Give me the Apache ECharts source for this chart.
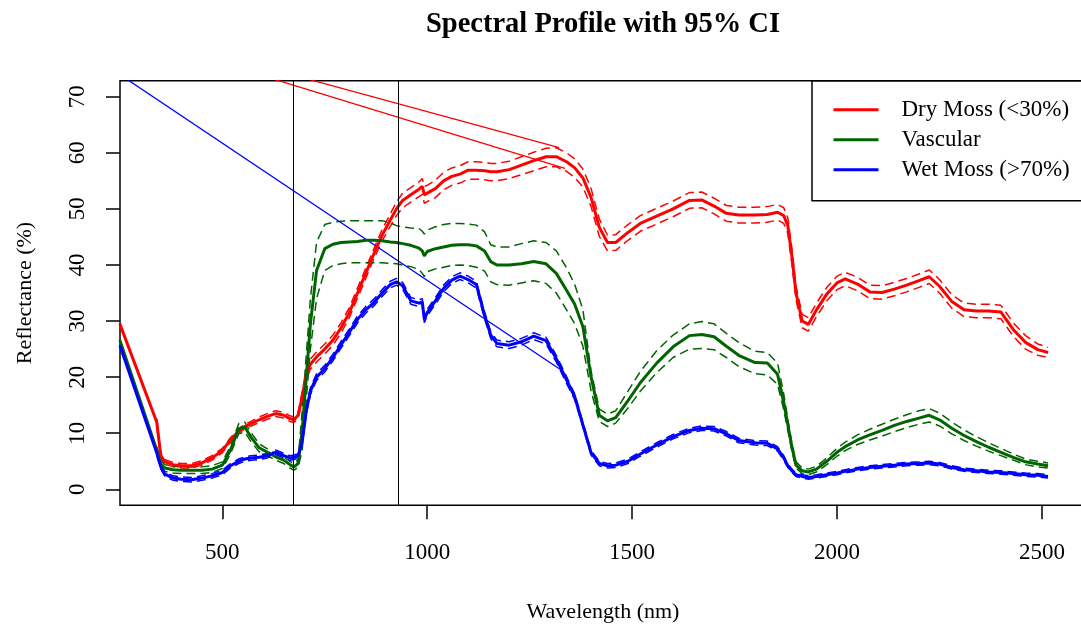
<!DOCTYPE html>
<html>
<head>
<meta charset="utf-8">
<script src="https://cdn.jsdelivr.net/npm/echarts@6/dist/echarts.min.js"></script>
<style>
html, body { margin: 0; padding: 0; background: #ffffff; }
#chart { width: 1081px; height: 628px; }
</style>
</head>
<body>
<div id="chart"></div>
<script>
// ---------------- DATA ----------------
const wavelength = [340, 350, 360, 380, 400, 425, 450, 475, 500, 520,
  540, 555, 570, 590, 610, 630, 650, 665, 675, 685,
  695, 705, 715, 730, 750, 770, 790, 810, 830, 850,
  870, 890, 910, 925, 940, 960, 980, 988, 993, 1000,
  1020, 1040, 1060, 1080, 1100, 1120, 1140, 1155, 1170, 1200,
  1230, 1260, 1290, 1315, 1340, 1360, 1380, 1400, 1420, 1440,
  1460, 1490, 1520, 1560, 1600, 1640, 1670, 1700, 1730, 1760,
  1800, 1830, 1855, 1870, 1880, 1890, 1900, 1915, 1930, 1950,
  1975, 2000, 2020, 2050, 2080, 2110, 2140, 2170, 2200, 2225,
  2250, 2280, 2310, 2340, 2370, 2400, 2430, 2460, 2490, 2515];

const dryMean = [12.0, 6.0, 4.9, 4.4, 4.2, 4.2, 4.7, 5.6, 6.9, 8.8,
  10.4, 11.2, 11.7, 12.4, 13.0, 13.5, 13.2, 12.6, 12.4, 13.2,
  16.5, 20.5, 22.3, 23.6, 25.0, 26.6, 28.8, 31.5, 35.0, 38.5,
  42.0, 45.3, 48.0, 50.0, 51.5, 52.5, 53.5, 54.0, 52.5, 52.8,
  53.6, 55.0, 55.8, 56.2, 56.9, 56.9, 56.8, 56.6, 56.6, 57.0,
  57.8, 58.6, 59.3, 59.3, 58.4, 57.3, 55.5, 52.0, 46.7, 44.0,
  44.0, 45.8, 47.4, 48.7, 50.0, 51.5, 51.6, 50.5, 49.2, 48.9,
  48.9, 49.0, 49.4, 48.8, 47.0, 41.5, 35.0, 30.0, 29.4, 32.0,
  34.8, 36.8, 37.5, 36.6, 35.2, 35.1, 35.7, 36.4, 37.2, 37.9,
  36.2, 33.5, 32.0, 31.8, 31.8, 31.6, 28.5, 26.2, 24.9, 24.4];
const dryUpper = [12.6, 6.5, 5.3, 4.8, 4.6, 4.6, 5.1, 6.0, 7.3, 9.2,
  10.8, 11.6, 12.1, 12.9, 13.5, 14.0, 13.7, 13.1, 12.9, 13.7,
  17.4, 21.4, 23.2, 24.5, 25.9, 27.5, 29.7, 32.4, 35.9, 39.4,
  42.9, 46.3, 49.1, 51.2, 52.8, 53.8, 54.8, 55.4, 54.0, 54.2,
  55.1, 56.5, 57.3, 57.7, 58.4, 58.4, 58.3, 58.1, 58.1, 58.5,
  59.3, 60.1, 60.8, 60.9, 60.0, 58.9, 57.1, 53.6, 48.2, 45.3,
  45.4, 47.2, 48.8, 50.1, 51.4, 52.9, 53.0, 51.9, 50.6, 50.3,
  50.3, 50.4, 50.8, 50.2, 48.4, 42.9, 36.2, 31.2, 30.6, 33.2,
  36.0, 38.0, 38.7, 37.8, 36.4, 36.3, 36.9, 37.6, 38.4, 39.1,
  37.4, 34.7, 33.2, 33.0, 33.0, 32.8, 29.7, 27.4, 25.9, 25.3];
const dryLower = [11.4, 5.5, 4.5, 4.0, 3.8, 3.8, 4.3, 5.2, 6.5, 8.4,
  10.0, 10.8, 11.3, 11.9, 12.5, 13.0, 12.7, 12.1, 11.9, 12.7,
  15.6, 19.6, 21.4, 22.7, 24.1, 25.7, 27.9, 30.6, 34.1, 37.6,
  41.1, 44.3, 46.9, 48.8, 50.2, 51.2, 52.2, 52.6, 51.0, 51.3,
  52.0, 53.4, 54.2, 54.6, 55.3, 55.3, 55.2, 55.0, 55.0, 55.4,
  56.1, 56.8, 57.5, 57.5, 56.7, 55.6, 53.9, 50.4, 45.1, 42.5,
  42.6, 44.4, 46.0, 47.3, 48.6, 50.1, 50.2, 49.1, 47.8, 47.5,
  47.5, 47.6, 48.0, 47.4, 45.6, 40.1, 33.8, 28.8, 28.2, 30.8,
  33.6, 35.6, 36.3, 35.4, 34.0, 33.9, 34.5, 35.2, 36.0, 36.7,
  35.0, 32.3, 30.8, 30.6, 30.6, 30.4, 27.3, 25.0, 23.9, 23.5];

const vascMean = [7.0, 4.5, 3.8, 3.5, 3.4, 3.4, 3.4, 3.6, 4.3, 7.0,
  10.8, 11.1, 9.3, 7.4, 6.6, 5.8, 5.2, 4.4, 4.0, 4.6,
  10.5, 20.0, 29.5, 39.0, 42.9, 43.7, 44.0, 44.1, 44.2, 44.4,
  44.4, 44.3, 44.1, 44.0, 43.8, 43.5, 43.0, 42.5, 41.6, 42.4,
  42.9, 43.2, 43.5, 43.6, 43.6, 43.4, 42.5, 40.6, 40.0, 40.0,
  40.2, 40.6, 40.2, 38.5, 35.5, 33.0, 29.0, 20.0, 13.2, 12.2,
  12.8, 15.8, 19.0, 22.5, 25.4, 27.4, 27.6, 27.2, 25.5, 23.9,
  22.6, 22.5, 20.5, 15.5, 11.5, 7.5, 4.3, 3.3, 3.1, 3.6,
  5.0, 6.6, 7.6, 8.8, 9.7, 10.5, 11.4, 12.1, 12.7, 13.2,
  12.4, 10.9, 9.6, 8.5, 7.5, 6.6, 5.7, 4.9, 4.5, 4.2];
const vascUpper = [7.6, 5.1, 4.4, 4.1, 4.0, 4.0, 4.0, 4.2, 4.9, 7.7,
  11.7, 12.0, 10.1, 8.1, 7.2, 6.4, 5.8, 5.0, 4.6, 5.3,
  14.0, 24.0, 34.0, 44.0, 47.2, 47.6, 47.8, 47.9, 47.9, 47.9,
  47.9, 47.9, 47.5, 47.0, 46.8, 46.6, 46.5, 46.0, 45.5, 46.2,
  46.8, 47.2, 47.4, 47.4, 47.3, 47.1, 45.9, 43.6, 43.2, 43.2,
  43.8, 44.3, 44.0, 42.5, 39.5, 36.5, 32.0, 21.0, 14.3, 13.4,
  14.0, 17.5, 21.0, 24.7, 27.5, 29.5, 29.9, 29.5, 27.8, 26.2,
  24.6, 24.4, 22.5, 17.0, 12.5, 8.2, 4.9, 3.8, 3.6, 4.1,
  5.6, 7.3, 8.4, 9.7, 10.7, 11.6, 12.5, 13.3, 14.0, 14.4,
  13.6, 12.0, 10.6, 9.4, 8.3, 7.3, 6.3, 5.4, 5.0, 4.7];
const vascLower = [6.4, 3.9, 3.2, 2.9, 2.8, 2.8, 2.8, 3.0, 3.7, 6.3,
  9.9, 10.2, 8.5, 6.7, 6.0, 5.2, 4.6, 3.8, 3.4, 3.9,
  7.0, 16.0, 25.0, 34.0, 39.0, 39.9, 40.2, 40.4, 40.4, 40.4,
  40.4, 40.4, 40.3, 40.2, 40.0, 39.7, 39.2, 38.5, 37.9, 38.8,
  39.3, 39.6, 39.9, 40.0, 39.9, 39.6, 38.9, 37.0, 36.5, 36.4,
  36.8, 37.2, 36.7, 35.0, 32.0, 29.5, 25.5, 17.5, 12.1, 11.2,
  11.8, 14.5, 17.5, 20.8, 23.5, 25.0, 25.1, 24.9, 23.5, 21.9,
  20.6, 20.4, 18.7, 14.2, 10.5, 6.8, 3.8, 2.8, 2.6, 3.1,
  4.4, 5.9, 6.9, 8.0, 8.8, 9.5, 10.3, 11.0, 11.6, 12.0,
  11.3, 9.9, 8.7, 7.7, 6.8, 6.0, 5.2, 4.4, 4.0, 3.8];

const wetMean = [6.5, 4.0, 2.7, 2.0, 1.8, 1.7, 2.0, 2.4, 3.0, 4.2,
  5.0, 5.4, 5.6, 5.7, 6.0, 6.6, 6.0, 5.6, 5.7, 6.0,
  8.5, 14.0, 17.5, 20.0, 21.5, 23.5, 25.8, 28.0, 30.3, 32.0,
  33.3, 35.0, 36.5, 37.0, 36.3, 33.6, 33.2, 33.4, 30.3, 31.5,
  33.6, 35.8, 37.3, 38.0, 37.4, 36.5, 31.0, 27.5, 26.0, 25.7,
  26.3, 27.3, 26.5, 23.3, 19.5, 16.5, 11.5, 6.5, 4.6, 4.2,
  4.3, 5.0, 6.3, 7.9, 9.4, 10.5, 10.9, 10.8, 9.9, 8.7,
  8.3, 8.2, 7.2, 5.6, 4.2, 3.3, 2.6, 2.3, 2.1, 2.3,
  2.6, 2.9, 3.2, 3.6, 3.9, 4.1, 4.3, 4.5, 4.6, 4.7,
  4.5, 3.9, 3.5, 3.3, 3.1, 3.0, 2.8, 2.6, 2.5, 2.3];
const wetUpper = [6.9, 4.4, 3.1, 2.4, 2.2, 2.1, 2.4, 2.8, 3.4, 4.6,
  5.4, 5.8, 6.0, 6.1, 6.4, 7.0, 6.4, 6.0, 6.1, 6.4,
  9.0, 14.6, 18.1, 20.6, 22.1, 24.1, 26.4, 28.6, 30.9, 32.6,
  33.9, 35.6, 37.1, 37.6, 36.9, 34.2, 33.8, 34.0, 30.9, 32.1,
  34.2, 36.4, 37.9, 38.6, 38.0, 37.1, 31.6, 28.1, 26.6, 26.3,
  26.9, 27.9, 27.1, 23.9, 20.1, 17.0, 11.9, 6.9, 5.0, 4.6,
  4.7, 5.4, 6.7, 8.3, 9.8, 10.9, 11.3, 11.2, 10.3, 9.1,
  8.7, 8.6, 7.6, 6.0, 4.5, 3.6, 2.9, 2.6, 2.4, 2.6,
  2.9, 3.2, 3.5, 3.9, 4.2, 4.4, 4.6, 4.8, 4.9, 5.0,
  4.8, 4.2, 3.8, 3.6, 3.4, 3.3, 3.1, 2.9, 2.8, 2.6];
const wetLower = [6.1, 3.6, 2.3, 1.6, 1.4, 1.3, 1.6, 2.0, 2.6, 3.8,
  4.6, 5.0, 5.2, 5.3, 5.6, 6.2, 5.6, 5.2, 5.3, 5.6,
  8.0, 13.4, 16.9, 19.4, 20.9, 22.9, 25.2, 27.4, 29.7, 31.4,
  32.7, 34.4, 35.9, 36.4, 35.7, 33.0, 32.6, 32.8, 29.7, 30.9,
  33.0, 35.2, 36.7, 37.4, 36.8, 35.9, 30.4, 26.9, 25.4, 25.1,
  25.7, 26.7, 25.9, 22.7, 18.9, 16.0, 11.1, 6.1, 4.2, 3.8,
  3.9, 4.6, 5.9, 7.5, 9.0, 10.1, 10.5, 10.4, 9.5, 8.3,
  7.9, 7.8, 6.8, 5.2, 3.9, 3.0, 2.3, 2.0, 1.8, 2.0,
  2.3, 2.6, 2.9, 3.3, 3.6, 3.8, 4.0, 4.2, 4.3, 4.4,
  4.2, 3.6, 3.2, 3.0, 2.8, 2.7, 2.5, 2.3, 2.2, 2.0];

// leading points of the mean curves (left of the visible range)
const leadWavelength = 250;
const dryLead = 29.5;
const vascLead = 26.6;
const wetLead = 25.7;

// stray connecting segments visible in the plot
const strayDryAWl = [350, 1322];
const strayDryAVal = [80.3, 60.9];
const strayDryBWl = [350, 1336];
const strayDryBVal = [79.3, 57.2];
const strayWetWl = [200, 1324];
const strayWetVal = [76.4, 21.4];

// vertical reference lines (nm)
const refLines = [673, 930];

// axes
const xTicks = [500, 1000, 1500, 2000, 2500];
const yTicks = [0, 10, 20, 30, 40, 50, 60, 70];
const xMin = 250.4, xMax = 2607.6;
const yMin = -2.85, yMax = 72.85;

const seriesNames = ['Dry Moss (<30%)', 'Vascular', 'Wet Moss (>70%)'];

// ---------------- CHART ----------------
const FONT = "'Liberation Serif', 'Times New Roman', Times, serif";
const RED = '#ff0000', GREEN = '#006400', BLUE = '#0000ff';
const zip = (xs, ys) => xs.map((x, i) => [x, ys[i]]);

function meanSeries(name, color, lead, vals) {
  return {
    name, type: 'line', data: [[leadWavelength, lead]].concat(zip(wavelength, vals)),
    symbol: 'none', showSymbol: false, clip: true, animation: false,
    lineStyle: { color, width: 3 }, itemStyle: { color }, z: 3
  };
}
function ciSeries(name, color, vals) {
  return {
    name, type: 'line', data: zip(wavelength, vals),
    symbol: 'none', showSymbol: false, clip: true, animation: false, silent: true,
    lineStyle: { color, width: 1.5, type: [9, 5] }, itemStyle: { color }, z: 2
  };
}
function straySeries(name, color, wls, vals) {
  return {
    name, type: 'line', data: zip(wls, vals),
    symbol: 'none', showSymbol: false, clip: true, animation: false, silent: true,
    lineStyle: { color, width: 1.3 }, itemStyle: { color }, z: 2
  };
}

const series = [
  ciSeries('dry-lower', RED, dryLower),
  ciSeries('dry-upper', RED, dryUpper),
  meanSeries(seriesNames[0], RED, dryLead, dryMean),
  ciSeries('vasc-lower', GREEN, vascLower),
  ciSeries('vasc-upper', GREEN, vascUpper),
  meanSeries(seriesNames[1], GREEN, vascLead, vascMean),
  ciSeries('wet-lower', BLUE, wetLower),
  ciSeries('wet-upper', BLUE, wetUpper),
  meanSeries(seriesNames[2], BLUE, wetLead, wetMean),
  straySeries('stray-dry-a', RED, strayDryAWl, strayDryAVal),
  straySeries('stray-dry-b', RED, strayDryBWl, strayDryBVal),
  straySeries('stray-wet', BLUE, strayWetWl, strayWetVal)
];
series[0].markLine = {
  silent: true, animation: false, symbol: ['none', 'none'],
  label: { show: false },
  lineStyle: { color: '#000', width: 1, type: 'solid' },
  data: refLines.map(v => ({ xAxis: v }))
};

const chart = echarts.init(document.getElementById('chart'), null, { renderer: 'canvas' });
chart.setOption({
  animation: false,
  backgroundColor: '#ffffff',
  title: {
    text: 'Spectral Profile with 95% CI',
    left: 603, top: 10, textAlign: 'center', padding: 0,
    textStyle: { fontFamily: FONT, fontSize: 28.5, fontWeight: 'bold', color: '#000' }
  },
  legend: {
    data: seriesNames,
    orient: 'vertical', left: 812, top: 80.7,
    padding: [17, 18, 19, 20],
    itemWidth: 45, itemHeight: 24, itemGap: 6,
    borderColor: '#000', borderWidth: 1.5, borderRadius: 0,
    selectedMode: false,
    itemStyle: { opacity: 0 },
    lineStyle: { width: 3 },
    textStyle: { fontFamily: FONT, fontSize: 23, color: '#000', lineHeight: 24, padding: [0, 0, 0, 18] }
  },
  grid: {
    left: 120, top: 80.7, width: 966, height: 424.6,
    show: true, borderColor: '#000', borderWidth: 1.5,
    containLabel: false, outerBoundsMode: 'none'
  },
  xAxis: {
    type: 'value', min: xMin, max: xMax,
    splitLine: { show: false },
    axisLine: { show: false, onZero: false },
    axisTick: { show: true, length: 14, lineStyle: { color: '#000', width: 1.5 }, customValues: xTicks },
    axisLabel: { customValues: xTicks, formatter: v => String(v), margin: 36, fontFamily: FONT, fontSize: 23, color: '#000' },
    name: 'Wavelength (nm)', nameLocation: 'middle', nameGap: 96,
    nameTextStyle: { fontFamily: FONT, fontSize: 22, color: '#000' }
  },
  yAxis: {
    type: 'value', min: yMin, max: yMax,
    splitLine: { show: false },
    axisLine: { show: false, onZero: false },
    axisTick: { show: true, length: 14, lineStyle: { color: '#000', width: 1.5 }, customValues: yTicks },
    axisLabel: { customValues: yTicks, formatter: v => String(v), rotate: 90, margin: 31, fontFamily: FONT, fontSize: 23, color: '#000' },
    name: 'Reflectance (%)', nameLocation: 'middle', nameGap: 84,
    nameTextStyle: { fontFamily: FONT, fontSize: 22, color: '#000' }
  },
  series
});
</script>
</body>
</html>
